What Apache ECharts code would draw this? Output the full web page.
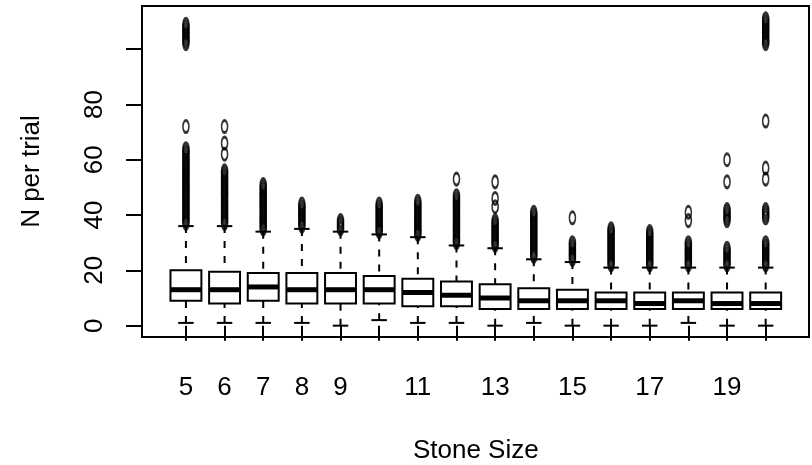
<!DOCTYPE html>
<html>
<head>
<meta charset="utf-8">
<script src="https://cdn.jsdelivr.net/npm/echarts@6/dist/echarts.min.js"></script>
<style>html,body{margin:0;padding:0;background:#fff}#chart{width:812px;height:465px}</style>
</head>
<body>
<div id="chart"></div>
<script>
const categories = ['5','6','7','8','9','10','11','12','13','14','15','16','17','18','19','20'];
const shownXLabels = ['5','6','7','8','9','11','13','15','17','19'];
const yTickValues = [0, 20, 40, 60, 80, 100];
const yLabelValues = [0, 20, 40, 60, 80];

const lowerWhisker = [1, 1, 1, 1, 0, 2, 1, 1, 0, 1, 0, 0, 0, 1, 0, 0];
const q1Values     = [9, 8, 9, 8, 8, 8, 7, 7, 6, 6, 6, 6, 6, 6, 6, 6];
const medianValues = [13, 13, 14, 13, 13, 13, 12, 11, 10, 9, 9, 9, 8, 9, 8, 8];
const q3Values     = [20, 19.5, 19, 19, 19, 18, 17, 16, 15, 13.5, 13, 12, 12, 12, 12, 12];
const upperWhisker = [36, 36, 34, 35, 34, 33, 32, 29, 28, 24, 23, 21, 21, 21, 21, 21];

const outlierValues = [
  [37,38,39,40,41,42,43,44,45,46,47,48,49,50,51,52,53,54,55,56,57,58,59,60,61,62,63,64,72,102,103,104,105,106,107,108,109],
  [37,38,39,40,41,42,43,44,45,46,47,48,49,50,51,52,53,54,55,56,62,66,72],
  [35,36,37,38,39,40,41,42,43,44,45,46,47,48,49,50,51],
  [36,37,38,39,40,41,42,43,44],
  [35,36,37,38],
  [34,35,36,37,38,39,40,41,42,43,44],
  [33,34,35,36,37,38,39,40,41,42,43,44,45],
  [30,31,32,33,34,35,36,37,38,39,40,41,42,43,44,45,46,47,53],
  [29,30,31,32,33,34,35,36,37,38,43,46,52],
  [25,26,27,28,29,30,31,32,33,34,35,36,37,38,39,40,41],
  [24,25,26,27,28,29,30,39],
  [22,23,24,25,26,27,28,29,30,31,32,33,34,35],
  [22,23,24,25,26,27,28,29,30,31,32,33,34],
  [22,23,24,25,26,27,28,29,30,38,41],
  [22,23,24,25,26,27,28,38,39,40,41,42,52,60],
  [22,23,24,25,26,27,28,29,30,39,40,41,42,53,57,74,102,103,104,105,106,107,108,109,110,111]
];

const boxData = categories.map((c, i) => [i, lowerWhisker[i], q1Values[i], medianValues[i], q3Values[i], upperWhisker[i]]);
const outlierData = [];
outlierValues.forEach((arr, i) => arr.forEach(v => outlierData.push([i, v])));

const FONT = "'Liberation Sans', Arial, Helvetica, sans-serif";
const FS = 26;
const Y_MIN = -4.1, Y_MAX = 115.6;

const chart = echarts.init(document.getElementById('chart'), null, {renderer: 'canvas'});
chart.setOption({
  animation: false,
  backgroundColor: '#fff',
  textStyle: {fontFamily: FONT, color: '#000'},
  grid: [
    {left: 142, right: 3, top: 6, bottom: 128, show: true, borderColor: '#000', borderWidth: 2, backgroundColor: 'transparent', containLabel: false, outerBoundsMode: 'none'},
    {left: 166.6, right: 27, top: 6, bottom: 128, containLabel: false, outerBoundsMode: 'none'}
  ],
  xAxis: [
    {gridIndex: 0, type: 'value', min: 0, max: 1, show: false},
    {
      gridIndex: 1, type: 'category', data: categories, boundaryGap: true,
      offset: 2,
      name: 'Stone Size', nameLocation: 'middle', nameGap: 99,
      nameTextStyle: {fontFamily: FONT, fontSize: FS, color: '#000'},
      axisLine: {show: false},
      axisTick: {show: true, alignWithLabel: true, interval: 0, length: 15, lineStyle: {color: '#000', width: 2}},
      axisLabel: {
        margin: 36, fontFamily: FONT, fontSize: FS, color: '#000',
        interval: (idx, val) => shownXLabels.includes(val)
      },
      splitLine: {show: false}
    }
  ],
  yAxis: [
    {
      gridIndex: 0, type: 'value', min: Y_MIN, max: Y_MAX,
      name: 'N per trial', nameLocation: 'middle', nameGap: 97, nameRotate: 90,
      nameTextStyle: {fontFamily: FONT, fontSize: FS, color: '#000'},
      axisLine: {show: false},
      axisTick: {show: true, length: 16, customValues: yTickValues, lineStyle: {color: '#000', width: 2}},
      axisLabel: {rotate: 90, margin: 34, fontFamily: FONT, fontSize: FS, color: '#000', customValues: yLabelValues},
      splitLine: {show: false}
    },
    {gridIndex: 1, type: 'value', min: Y_MIN, max: Y_MAX, show: false, splitLine: {show: false}}
  ],
  series: [
    {
      type: 'custom',
      xAxisIndex: 1, yAxisIndex: 1,
      data: boxData,
      encode: {x: 0, y: [1, 2, 3, 4, 5]},
      renderItem: function (params, api) {
        const i = api.value(0);
        const x = api.coord([i, api.value(3)])[0];
        const yLw = api.coord([i, api.value(1)])[1];
        const yQ1 = api.coord([i, api.value(2)])[1];
        const yMed = api.coord([i, api.value(3)])[1];
        const yQ3 = api.coord([i, api.value(4)])[1];
        const yUw = api.coord([i, api.value(5)])[1];
        const band = api.size([1, 0])[0];
        const bw = band * 0.8;
        const cap = bw * 0.5;
        const lineStyle = {stroke: '#000', lineWidth: 2};
        return {
          type: 'group',
          children: [
            {type: 'line', shape: {x1: x, y1: yUw, x2: x, y2: yQ3}, style: {stroke: '#000', lineWidth: 2, lineDash: [7, 8]}},
            {type: 'line', shape: {x1: x, y1: yLw, x2: x, y2: yQ1}, style: {stroke: '#000', lineWidth: 2, lineDash: [7, 8]}},
            {type: 'line', shape: {x1: x - cap / 2, y1: yUw, x2: x + cap / 2, y2: yUw}, style: lineStyle},
            {type: 'line', shape: {x1: x - cap / 2, y1: yLw, x2: x + cap / 2, y2: yLw}, style: lineStyle},
            {type: 'rect', shape: {x: x - bw / 2, y: yQ3, width: bw, height: yQ1 - yQ3}, style: {fill: '#fff', stroke: '#000', lineWidth: 2}},
            {type: 'line', shape: {x1: x - bw / 2, y1: yMed, x2: x + bw / 2, y2: yMed}, style: {stroke: '#000', lineWidth: 5}}
          ]
        };
      }
    },
    {
      type: 'scatter',
      xAxisIndex: 1, yAxisIndex: 1,
      data: outlierData,
      symbol: 'path://M0,10a10,10 0 1,0 20,0a10,10 0 1,0 -20,0',
      symbolSize: [6, 12],
      itemStyle: {color: 'rgba(0,0,0,0)', borderColor: '#000', borderWidth: 2.2},
      emphasis: {disabled: true}
    }
  ]
});
</script>
</body>
</html>
